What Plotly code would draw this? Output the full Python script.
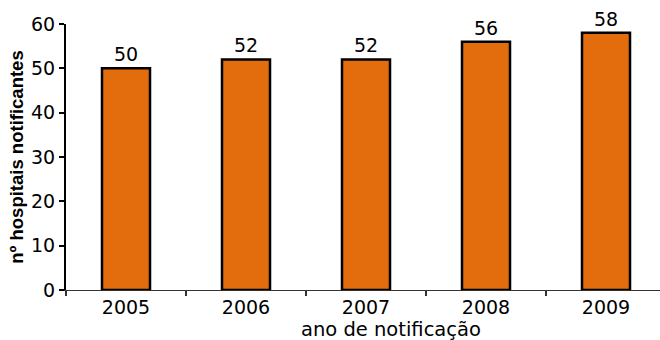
import plotly.graph_objects as go

anos = ["2005", "2006", "2007", "2008", "2009"]
hospitais = [50, 52, 52, 56, 58]

FONT = "DejaVu Sans, Verdana, sans-serif"
TITLE_FONT = "Liberation Sans, Arial, sans-serif"

fig = go.Figure()
fig.add_trace(go.Bar(
    x=anos,
    y=hospitais,
    width=0.4,
    marker=dict(color="#E36C0C", line=dict(color="#000000", width=2.5)),
    text=[str(v) for v in hospitais],
    textposition="outside",
    textfont=dict(family=FONT, size=19, color="#000000"),
    cliponaxis=False,
))

fig.update_layout(
    width=660, height=340,
    margin=dict(l=66, r=0, t=24, b=50),
    paper_bgcolor="white", plot_bgcolor="white",
    showlegend=False,
    font=dict(family=FONT, color="#000000"),
    xaxis=dict(
        type="category",
        range=[-0.5, 4.45],
        tickson="boundaries",
        ticks="outside", ticklen=5, tickcolor="#333333", tickwidth=2,
        showline=True, linecolor="#333333", linewidth=1,
        showgrid=False,
        tickfont=dict(family=FONT, size=19, color="#000000"),
    ),
    yaxis=dict(
        range=[0, 60],
        tickvals=[0, 10, 20, 30, 40, 50, 60],
        ticks="outside", ticklen=5, tickcolor="#000000", tickwidth=2,
        showline=True, linecolor="#000000", linewidth=2,
        showgrid=False, zeroline=False,
        tickfont=dict(family=FONT, size=19, color="#000000"),
        title=dict(text="<b>nº hospitais notificantes</b>",
                   font=dict(family=TITLE_FONT, size=18.5, color="#000000"),
                   standoff=3),
    ),
    annotations=[dict(
        text="ano de notificação",
        xref="paper", yref="paper",
        x=(391 - 66) / 594, y=(290 - 329) / 266,
        xanchor="center", yanchor="middle",
        showarrow=False,
        font=dict(family=FONT, size=19.5, color="#000000"),
    )],
)

fig.write_html("out.html")
